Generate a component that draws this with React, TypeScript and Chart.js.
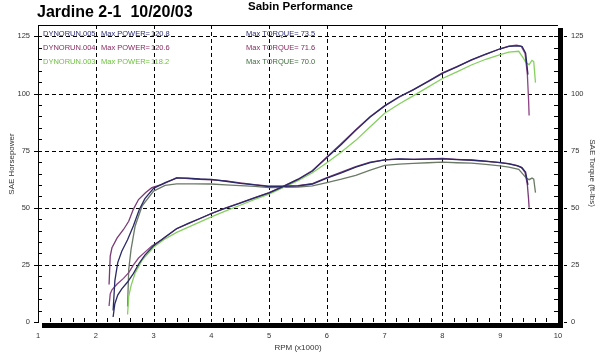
import React, { useEffect, useRef } from "react";
import { Chart, registerables } from "chart.js";

Chart.register(...registerables);

// ---- Run DYNORUN.005 (navy) ----
const rpm005 = [2.30, 2.33, 2.38, 2.45, 2.55, 2.65, 2.75, 2.85, 3.00, 3.20, 3.40, 3.60, 3.80, 4.00, 4.25, 4.50, 4.75, 5.00, 5.25, 5.50, 5.75, 6.00, 6.25, 6.50, 6.75, 7.00, 7.25, 7.50, 7.75, 8.00, 8.25, 8.50, 8.75, 9.00, 9.15, 9.30, 9.38, 9.44, 9.48];
const tq005 = [5, 18, 26, 31, 36, 42, 49, 54, 58.5, 61, 63, 63, 62.6, 62.4, 61.6, 60.7, 60, 59.3, 59.4, 59.6, 60.4, 63, 65.3, 67.8, 69.8, 71, 71.4, 71.2, 71.3, 71.4, 71.1, 70.9, 70.4, 69.8, 69.2, 68.3, 67.5, 65.5, 60];
const hp005 = [2.2, 8.0, 11.8, 14.5, 17.5, 21.2, 25.7, 29.3, 33.4, 37.2, 40.8, 43.2, 45.3, 47.5, 49.8, 52.0, 54.3, 56.5, 59.4, 62.4, 66.1, 72.0, 77.7, 83.9, 89.7, 94.6, 98.6, 101.7, 105.2, 108.8, 111.7, 114.7, 117.3, 119.6, 120.6, 120.9, 120.6, 117.7, 108.3];

// ---- Run DYNORUN.004 (purple) ----
const rpm004 = [2.23, 2.25, 2.28, 2.37, 2.48, 2.57, 2.65, 2.74, 2.86, 2.97, 3.15, 3.40, 3.70, 4.00, 4.25, 4.50, 4.75, 5.00, 5.25, 5.50, 5.75, 6.00, 6.25, 6.50, 6.75, 7.00, 7.25, 7.50, 7.75, 8.00, 8.25, 8.50, 8.75, 9.00, 9.15, 9.28, 9.36, 9.43, 9.47, 9.49, 9.50];
const tq004 = [16.4, 28.8, 32.5, 36.8, 40.5, 44.1, 49.3, 53.6, 56.6, 58.8, 60.2, 63.2, 62.6, 62.2, 61.8, 60.9, 60.1, 59.5, 59.5, 59.7, 60.6, 63.2, 65.6, 68.0, 70.0, 71.0, 71.3, 71.2, 71.4, 71.6, 71.2, 70.8, 70.3, 69.8, 69.3, 68.6, 67.8, 65.5, 60, 54, 50];
const hp004 = [7.0, 12.3, 14.1, 16.6, 19.1, 21.6, 24.9, 28.0, 30.8, 33.3, 36.1, 40.9, 44.1, 47.4, 50.0, 52.2, 54.4, 56.6, 59.5, 62.5, 66.3, 72.2, 78.1, 84.2, 90.0, 94.6, 98.4, 101.7, 105.4, 109.1, 111.8, 114.6, 117.1, 119.6, 120.7, 121.2, 120.8, 117.6, 108.2, 97.6, 90.4];

// ---- Run DYNORUN.003 (green) ----
const rpm003 = [2.55, 2.57, 2.61, 2.68, 2.80, 3.00, 3.20, 3.40, 3.70, 4.00, 4.25, 4.50, 4.75, 5.00, 5.25, 5.50, 5.75, 6.00, 6.25, 6.50, 6.75, 7.00, 7.25, 7.50, 7.75, 8.00, 8.25, 8.50, 8.75, 9.00, 9.15, 9.32, 9.40, 9.45, 9.50, 9.55, 9.58, 9.61];
const tq003 = [6.8, 22.9, 31.7, 41.9, 50.7, 57.3, 59.8, 60.5, 60.5, 60.4, 60.0, 59.7, 59.4, 58.8, 58.9, 59.1, 59.6, 61.0, 62.5, 64.2, 66.5, 68.6, 69.1, 69.4, 69.7, 70.0, 69.7, 69.5, 69.0, 68.3, 67.8, 66.8, 64.5, 63.0, 62.3, 63.0, 62.5, 56.6];
const hp003 = [3.3, 11.2, 15.8, 21.4, 27.0, 32.7, 36.4, 39.2, 42.6, 46.0, 48.6, 51.1, 53.7, 56.0, 58.9, 61.9, 65.3, 69.7, 74.4, 79.5, 85.5, 91.4, 95.4, 99.1, 102.8, 106.6, 109.5, 112.5, 115.0, 117.0, 118.1, 118.5, 115.5, 113.4, 112.7, 114.5, 114.0, 104.8];

// ---- Axes / labels ----
const xTickValues = [1, 2, 3, 4, 5, 6, 7, 8, 9, 10];
const yTickValues = [0, 25, 50, 75, 100, 125];
const runNames = ["DYNORUN.005", "DYNORUN.004", "DYNORUN.003"];
const maxPowerValues = ["120.8", "120.6", "118.2"];
const maxTorqueValues = ["73.5", "71.6", "70.0"];
const runTextColors = ["#2e2e78", "#8a2c62", "#6cc23c"];
const torqueTextColors = ["#2e2e78", "#8a2c62", "#3c6e3c"];

const titleText = "Jardine 2-1  10/20/03";
const subtitleText = "Sabin Performance";
const yLeftTitle = "SAE Horsepower";
const yRightTitle = "SAE Torque (ft-lbs)";
const xTitle = "RPM (x1000)";

const FONT = "Arial, 'Liberation Sans', Helvetica, sans-serif";

const pts = (xs: number[], ys: number[]) => xs.map((x, i) => ({ x, y: ys[i] }));

const framePlugin = {
  id: "dynoFrame",
  beforeDatasetsDraw(chart: any) {
    const { ctx, chartArea: a, scales } = chart;
    const xs = scales.x;
    const ys = scales.y;
    ctx.save();
    ctx.strokeStyle = "#000";
    ctx.lineWidth = 1;
    const seg = (x1: number, y1: number, x2: number, y2: number) => {
      ctx.beginPath();
      ctx.moveTo(x1, y1);
      ctx.lineTo(x2, y2);
      ctx.stroke();
    };
    // dashed major grid
    ctx.setLineDash([4, 3]);
    xTickValues.forEach((v) => {
      if (v === xTickValues[0] || v === xTickValues[xTickValues.length - 1]) return;
      const px = Math.round(xs.getPixelForValue(v)) + 0.5;
      seg(px, a.top, px, a.bottom);
    });
    yTickValues.forEach((v) => {
      if (v === 0) return;
      const py = Math.round(ys.getPixelForValue(v)) + 0.5;
      seg(a.left, py, a.right, py);
    });
    ctx.setLineDash([]);
    // frame: top and left
    const top = Math.round(a.top) + 0.5;
    const left = Math.round(a.left) + 0.5;
    seg(a.left, top, a.right, top);
    seg(left, a.top, left, a.bottom + 1);
    // minor ticks on y (inside, both sides)
    for (let v = 5; v < 130; v += 5) {
      const py = Math.round(ys.getPixelForValue(v)) + 0.5;
      seg(a.left, py, a.left + 4, py);
      seg(a.right - 4, py, a.right, py);
    }
    // major outer ticks
    yTickValues.forEach((v) => {
      const py = Math.round(ys.getPixelForValue(v)) + 0.5;
      seg(a.left - 4, py, a.left, py);
      seg(a.right + 6, py, a.right + 9, py);
    });
    // minor ticks on x
    for (let i = 1; i < 45; i++) {
      if (i % 5 === 0) continue;
      const v = 1 + i * 0.2;
      const px = Math.round(xs.getPixelForValue(v)) + 0.5;
      seg(px, a.bottom - 4, px, a.bottom);
    }
    ctx.restore();
  },
  afterDraw(chart: any) {
    const { ctx, chartArea: a } = chart;
    ctx.save();
    // shadow bars
    ctx.fillStyle = "#000";
    ctx.fillRect(a.right, a.top + 3, 5, a.bottom - a.top + 3);
    ctx.fillRect(a.left + 4, a.bottom + 1, a.right - a.left + 1, 5);

    // titles
    ctx.fillStyle = "#000";
    ctx.textBaseline = "alphabetic";
    ctx.textAlign = "left";
    ctx.font = `bold 16px ${FONT}`;
    ctx.fillText(titleText, 37, 17);
    ctx.font = `bold 11.5px ${FONT}`;
    ctx.fillText(subtitleText, 248, 10);

    // axis titles
    ctx.fillStyle = "#333";
    ctx.font = `8px ${FONT}`;
    ctx.textAlign = "center";
    ctx.textBaseline = "middle";
    ctx.fillText(xTitle, 298, 348);
    ctx.save();
    ctx.translate(12, 164);
    ctx.rotate(-Math.PI / 2);
    ctx.fillText(yLeftTitle, 0, 0);
    ctx.restore();
    ctx.save();
    ctx.translate(592, 173);
    ctx.rotate(Math.PI / 2);
    ctx.fillText(yRightTitle, 0, 0);
    ctx.restore();

    // legend rows
    ctx.font = `7.5px ${FONT}`;
    ctx.textAlign = "left";
    ctx.textBaseline = "middle";
    runNames.forEach((name, i) => {
      const y = 34 + i * 14;
      ctx.fillStyle = runTextColors[i];
      ctx.fillText(name, 43, y);
      ctx.fillText("Max POWER=", 101, y);
      ctx.fillText(maxPowerValues[i], 151, y);
      ctx.fillStyle = torqueTextColors[i];
      ctx.fillText("Max TORQUE= " + maxTorqueValues[i], 246, y);
    });
    ctx.restore();
  },
};

export default function App() {
  const ref = useRef<HTMLCanvasElement | null>(null);
  useEffect(() => {
    document.body.style.margin = "0";
    const canvas = ref.current;
    if (!canvas) return;
    const line = (label: string, xs: number[], ys: number[], color: string, axis: string) => ({
      label,
      data: pts(xs, ys),
      yAxisID: axis,
      borderColor: color,
      backgroundColor: color,
      borderWidth: 1.3,
      pointRadius: 0,
      showLine: true,
      tension: 0,
      fill: false,
    });
    const setTicks = (scale: any) => {
      scale.ticks = yTickValues.map((v) => ({ value: v }));
    };
    const chart = new Chart(canvas, {
      type: "scatter",
      data: {
        datasets: [
          line("005 HP", rpm005, hp005, "#2a2a66", "y"),
          line("005 TQ", rpm005, tq005, "#2a2a66", "y2"),
          line("004 HP", rpm004, hp004, "#8a4284", "y"),
          line("004 TQ", rpm004, tq004, "#7a3a78", "y2"),
          line("003 HP", rpm003, hp003, "#86d060", "y"),
          line("003 TQ", rpm003, tq003, "#6a7a66", "y2"),
        ],
      },
      options: {
        animation: false,
        responsive: true,
        maintainAspectRatio: false,
        layout: { padding: { top: 25, left: 0, right: 0, bottom: 0 } },
        plugins: { legend: { display: false }, title: { display: false }, tooltip: { enabled: false } },
        scales: {
          x: {
            type: "linear",
            min: 1,
            max: 10,
            afterBuildTicks: (s: any) => {
              s.ticks = xTickValues.map((v) => ({ value: v }));
            },
            afterFit: (s: any) => {
              s.height = 31;
            },
            grid: { display: false, drawTicks: false },
            border: { display: false },
            ticks: { color: "#333", font: { size: 7.5, family: FONT }, padding: 9, maxRotation: 0, autoSkip: false },
          },
          y: {
            type: "linear",
            position: "left",
            min: 0,
            max: 130,
            afterBuildTicks: setTicks,
            afterFit: (s: any) => {
              s.width = 38;
            },
            grid: { display: false, drawTicks: false },
            border: { display: false },
            ticks: { color: "#333", font: { size: 7.5, family: FONT }, padding: 8 },
          },
          y2: {
            type: "linear",
            position: "right",
            min: 0,
            max: 130,
            afterBuildTicks: setTicks,
            afterFit: (s: any) => {
              s.width = 42;
            },
            grid: { display: false, drawTicks: false },
            border: { display: false },
            ticks: { color: "#333", font: { size: 7.5, family: FONT }, padding: 13 },
          },
        },
      },
      plugins: [framePlugin],
    } as any);
    return () => chart.destroy();
  }, []);
  return (
    <div style={{ position: "fixed", left: 0, top: 0, width: 600, height: 353, background: "#fff" }}>
      <canvas ref={ref} />
    </div>
  );
}
